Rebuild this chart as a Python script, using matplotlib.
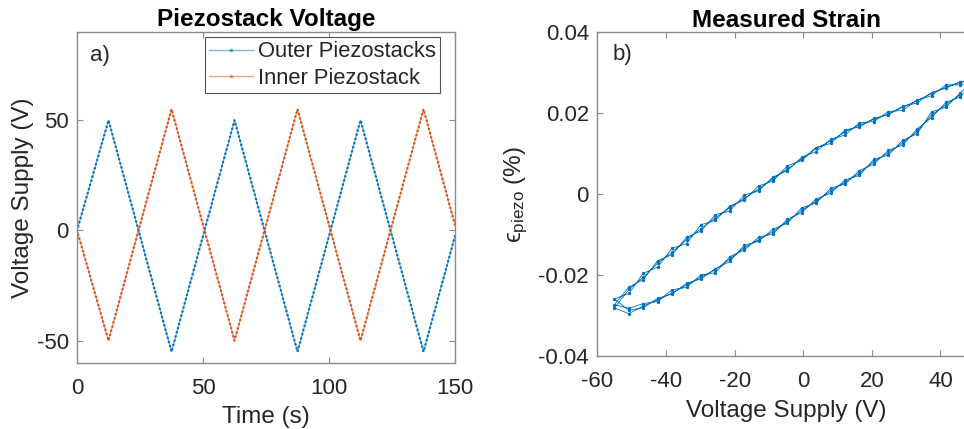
import matplotlib
matplotlib.use("Agg")
import matplotlib.pyplot as plt
import numpy as np

plt.rcParams['font.family'] = ['Liberation Sans', 'DejaVu Sans']
plt.rcParams['mathtext.fontset'] = 'custom'
plt.rcParams['mathtext.rm'] = 'Liberation Sans'
plt.rcParams['mathtext.it'] = 'Liberation Sans:italic'
plt.rcParams['axes.unicode_minus'] = False
plt.rcParams['lines.scale_dashes'] = False

BLUE = '#0072BD'
ORANGE = '#D95319'
SPINE = '#8a8a8a'
TEXT = '#262626'

# ---- Panel a: triangular drive voltages (vertices of the waveform) ----
time_s = [0, 12.5, 37.5, 62.5, 87.5, 112.5, 137.5, 150]
outer_v = [0, 50, -55, 50, -55, 50, -55, -2.5]
inner_v = [0, -50, 55, -50, 55, -50, 55, 2.5]

# ---- Panel b: measured strain vs outer supply voltage ----
sweep_down = [50, 45.8, 41.6, 37.4, 33.2, 29, 24.8, 20.6, 16.4, 12.2, 8, 3.8, -0.4,
              -4.6, -8.8, -13, -17.2, -21.4, -25.6, -29.8, -34, -38.2, -42.4, -46.6,
              -50.8, -55]
sweep_up = [-50.8, -46.6, -42.4, -38.2, -34, -29.8, -25.6, -21.4, -17.2, -13, -8.8,
            -4.6, -0.4, 3.8, 8, 12.2, 16.4, 20.6, 24.8, 29, 33.2, 37.4, 41.6, 45.8]

strain_down_1 = [0.0283, 0.0278, 0.0262, 0.0251, 0.0225, 0.0217, 0.0196, 0.0187, 0.0166,
                 0.0158, 0.0125, 0.0115, 0.0083, 0.0070, 0.0032, 0.0020, -0.0015, -0.0030,
                 -0.0065, -0.0076, -0.0123, -0.0134, -0.0181, -0.0196, -0.0246, -0.0260]
strain_up_1 = [-0.0288, -0.0281, -0.0258, -0.0247, -0.0221, -0.0210, -0.0185, -0.0167,
               -0.0127, -0.0117, -0.0087, -0.0072, -0.0034, -0.0022, 0.0014, 0.0025,
               0.0058, 0.0074, 0.0108, 0.0121, 0.0161, 0.0189, 0.0227, 0.0240]
strain_down_2 = [0.0281, 0.0270, 0.0270, 0.0243, 0.0233, 0.0207, 0.0204, 0.0179, 0.0176,
                 0.0146, 0.0135, 0.0105, 0.0091, 0.0058, 0.0042, 0.0008, -0.0003, -0.0042,
                 -0.0051, -0.0092, -0.0107, -0.0150, -0.0165, -0.0212, -0.0230, -0.0274]
strain_up_2 = [-0.0283, -0.0271, -0.0266, -0.0237, -0.0231, -0.0200, -0.0195, -0.0155,
               -0.0139, -0.0107, -0.0099, -0.0062, -0.0046, -0.0012, 0.0002, 0.0035,
               0.0046, 0.0086, 0.0096, 0.0133, 0.0149, 0.0203, 0.0215, 0.0250]
strain_down_3 = [0.0285, 0.0276, 0.0264, 0.0249, 0.0231, 0.0215, 0.0198, 0.0185, 0.0170,
                 0.0154, 0.0131, 0.0113, 0.0087, 0.0062, 0.0038, 0.0012, -0.0011, -0.0034,
                 -0.0059, -0.0086, -0.0113, -0.0144, -0.0171, -0.0206, -0.0236, -0.0282]
strain_up_3 = [-0.0296, -0.0277, -0.0262, -0.0245, -0.0225, -0.0206, -0.0187, -0.0161,
               -0.0133, -0.0113, -0.0093, -0.0068, -0.0040, -0.0018, 0.0008, 0.0029,
               0.0052, 0.0080, 0.0102, 0.0127, 0.0155, 0.0195, 0.0221, 0.0246]

volt_b = sweep_down + sweep_up + sweep_down + sweep_up + sweep_down + sweep_up
strain_b = (strain_down_1 + strain_up_1 + strain_down_2 + strain_up_2
            + strain_down_3 + strain_up_3)

fig = plt.figure(figsize=(9.64, 4.29), dpi=100)

def style_axes(ax):
    for s in ax.spines.values():
        s.set_color(SPINE)
        s.set_linewidth(1.0)
    ax.tick_params(direction='in', length=4, width=0.8, color=SPINE,
                   labelsize=16, labelcolor=TEXT, top=True, right=True)
    ax.tick_params(axis='x', pad=11)
    ax.tick_params(axis='y', pad=6)

# Panel a
ax1 = fig.add_axes([0.0799, 0.1545, 0.3921, 0.7709])
for v, c, lab in [(outer_v, BLUE, 'Outer Piezostacks'), (inner_v, ORANGE, 'Inner Piezostack')]:
    ax1.plot(time_s, v, color=c, lw=0.9, alpha=0.55)
    ax1.plot(time_s, v, color=c, lw=1.8, linestyle=(0, (0.1, 3.0)),
             dash_capstyle='round', solid_capstyle='round')
    ax1.plot([], [], color=c, lw=1.0, alpha=0.5, marker='.', markersize=3, label=lab)
ax1.set_xlim(0, 150)
ax1.set_ylim(-60, 90)
ax1.set_xticks([0, 50, 100, 150])
ax1.set_yticks([-50, 0, 50])
style_axes(ax1)
ax1.set_xlabel('Time (s)', fontsize=17.5, color=TEXT, labelpad=5)
ax1.set_ylabel('Voltage Supply (V)', fontsize=17.5, color=TEXT, labelpad=2)
ax1.set_title('Piezostack Voltage', fontsize=17.5, fontweight='bold', color='black', pad=4)
ax1.text(0.035, 0.93, 'a)', transform=ax1.transAxes, fontsize=16, color=TEXT,
         va='center', ha='left')
leg = ax1.legend(loc='upper right', bbox_to_anchor=(0.960, 0.985), fontsize=15.8,
                 frameon=True, fancybox=False, borderaxespad=0.0, handlelength=2.0,
                 handletextpad=0.2, borderpad=0.2, labelspacing=0.25)
leg.get_frame().set_edgecolor('#262626')
leg.get_frame().set_linewidth(0.8)
for t in leg.get_texts():
    t.set_color(TEXT)

# Panel b
ax2 = fig.add_axes([0.6196, 0.1709, 0.3916, 0.7538])
ax2.plot(volt_b, strain_b, color=BLUE, lw=0.6, marker='.', markersize=2.8)
ax2.set_xlim(-60, 50)
ax2.set_ylim(-0.04, 0.04)
ax2.set_xticks([-60, -40, -20, 0, 20, 40])
ax2.set_yticks([-0.04, -0.02, 0, 0.02, 0.04])
ax2.set_yticklabels(['-0.04', '-0.02', '0', '0.02', '0.04'])
style_axes(ax2)
ax2.set_xlabel('Voltage Supply (V)', fontsize=17.5, color=TEXT, labelpad=6)
ax2.set_ylabel('\u03f5$_{\\mathrm{piezo}}$ (%)', fontsize=17.5, color=TEXT, labelpad=6)
ax2.set_title('Measured Strain', fontsize=17.5, fontweight='bold', color='black', pad=4)
ax2.text(0.04, 0.93, 'b)', transform=ax2.transAxes, fontsize=16, color=TEXT,
         va='center', ha='left')

fig.savefig('out.png', dpi=100)
